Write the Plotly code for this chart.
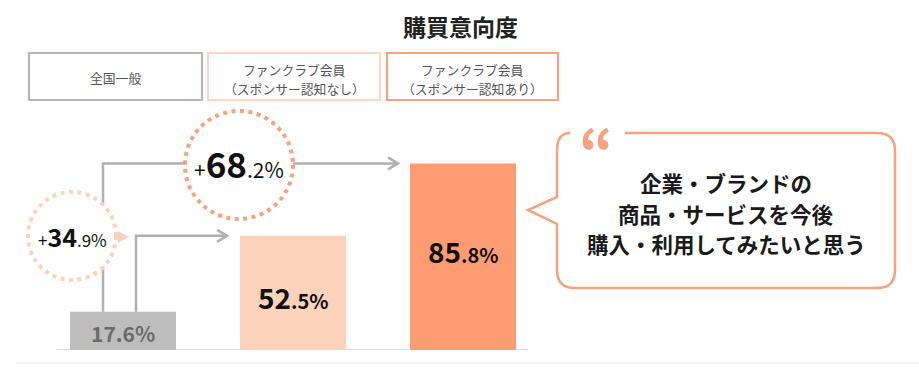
import plotly.graph_objects as go

W, H = 919, 377
FONT = "Noto Sans CJK JP"

# ---- data ----
title = "購買意向度"
categories = ["全国一般", "ファンクラブ会員（スポンサー認知なし）", "ファンクラブ会員（スポンサー認知あり）"]
legend_lines = [["全国一般"], ["ファンクラブ会員", "（スポンサー認知なし）"], ["ファンクラブ会員", "（スポンサー認知あり）"]]
values = [17.6, 52.5, 85.8]
lifts = [34.9, 68.2]
bar_colors = ["#bdbdbd", "#fdd2bb", "#fd9c72"]
box_colors = ["#b5b5b5", "#fcd6c2", "#f3a283"]
bubble_lines = ["企業・ブランドの", "商品・サービスを今後", "購入・利用してみたいと思う"]

ORANGE = "#f4a27f"
PEACH = "#fcd2bc"
GRAY_LINE = "#b0b0b0"


def px(x):
    return x / W


def py(y):
    return 1 - y / H


def ppath(cmds):
    out = []
    for c in cmds:
        if isinstance(c, str):
            out.append(c)
        else:
            out.append(f"{px(c[0]):.5f},{py(c[1]):.5f}")
    return " ".join(out)


fig = go.Figure()
fig.add_trace(go.Bar(
    x=list(range(len(values))), y=values, width=0.6235,
    marker=dict(color=bar_colors, line=dict(width=0)),
    hoverinfo="skip", showlegend=False,
))

shapes = []
ann = []

# baseline and faint footer line
shapes.append(dict(type="line", xref="paper", yref="y", x0=px(56), x1=px(528), y0=0, y1=0,
                   line=dict(color="#dadada", width=2), layer="below"))
shapes.append(dict(type="line", xref="paper", yref="paper", x0=px(16), x1=1, y0=py(363), y1=py(363),
                   line=dict(color="#f3f3f3", width=2), layer="below"))

# legend boxes
boxes = [(29, 202), (208, 380), (387, 558)]
for i, (x0, x1) in enumerate(boxes):
    shapes.append(dict(type="rect", xref="paper", yref="paper", x0=px(x0), x1=px(x1), y0=py(53), y1=py(100),
                       line=dict(color=box_colors[i], width=2.2), fillcolor="rgba(0,0,0,0)"))
    cx = (x0 + x1) / 2
    lines = legend_lines[i]
    ys = [77] if len(lines) == 1 else [69.5, 88]
    for t, yy in zip(lines, ys):
        ann.append(dict(xref="paper", yref="paper", x=px(cx), y=py(yy), text=t,
                        showarrow=False, xanchor="center", yanchor="middle",
                        font=dict(family=FONT, size=12.8, color="#555555")))

# connectors (data coordinates)
xa, xb = -0.1176, 0.0765
tip_a, tip_b = 1.6176, 0.6118
shapes.append(dict(type="path", xref="x", yref="y",
                   path=f"M{xa},{values[0]} L{xa},{values[2]} L{tip_a},{values[2]}",
                   line=dict(color=GRAY_LINE, width=2.5)))
shapes.append(dict(type="path", xref="x", yref="y",
                   path=f"M{xb},{values[0]} L{xb},{values[1]} L{tip_b},{values[1]}",
                   line=dict(color=GRAY_LINE, width=2.5)))
for tip, lv in [(tip_a, values[2]), (tip_b, values[1])]:
    shapes.append(dict(type="path", xref="x", yref="y", xsizemode="pixel", ysizemode="pixel",
                       xanchor=tip, yanchor=lv, path="M-10,-6 L0,0 L-10,6",
                       line=dict(color=GRAY_LINE, width=2.5)))

# dotted circles
for (cx, cy, r, col) in [(72, 236, 44, PEACH), (239, 165, 54, ORANGE)]:
    shapes.append(dict(type="circle", xref="paper", yref="paper",
                       x0=px(cx - r), x1=px(cx + r), y0=py(cy + r), y1=py(cy - r),
                       fillcolor="white", line=dict(color=col, width=4, dash="4px,4.5px")))

# small triangle
shapes.append(dict(type="path", xref="paper", yref="paper",
                   path=ppath(["M", (118, 231), "L", (129, 237), "L", (118, 243), "Z"]),
                   fillcolor=PEACH, line=dict(width=0)))

# speech bubble
bubble = ["M", (625, 133), "L", (877, 133), "Q", (895, 133), (895, 151), "L", (895, 270),
          "Q", (895, 288), (877, 288), "L", (575, 288), "Q", (557, 288), (557, 270),
          "L", (557, 224), "L", (528, 210), "L", (557, 197), "L", (557, 151),
          "Q", (557, 133), (570, 133)]
shapes.append(dict(type="path", xref="paper", yref="paper", path=ppath(bubble),
                   fillcolor="rgba(0,0,0,0)", line=dict(color=ORANGE, width=2.5)))
ann.append(dict(xref="paper", yref="paper", x=px(596), y=py(148), text="<b>“</b>", showarrow=False,
                xanchor="center", yanchor="middle",
                font=dict(family=FONT, size=60, color=ORANGE)))
for t, yy in zip(bubble_lines, [182, 213, 243]):
    ann.append(dict(xref="paper", yref="paper", x=px(726), y=py(yy), text=f"<b>{t}</b>", showarrow=False,
                    xanchor="center", yanchor="middle",
                    font=dict(family=FONT, size=21.5, color="#1a1a1a")))

# title
ann.append(dict(xref="paper", yref="paper", x=px(461), y=py(26), text=f"<b>{title}</b>", showarrow=False,
                xanchor="center", yanchor="middle", font=dict(family=FONT, size=23, color="#222222")))


def split(v):
    s = f"{v:.1f}"
    a, b = s.split(".")
    return a, "." + b + "%"


# lift labels in circles
for (cx, cy, big, small), lv in zip([(72, 236, 25, 17), (239, 162, 35, 21)], lifts):
    a, b = split(lv)
    txt = (f"<span style='font-size:{small}px'>+</span><b>{a}</b>"
           f"<span style='font-size:{small}px'>{b}</span>")
    ann.append(dict(xref="paper", yref="paper", x=px(cx), y=py(cy), text=txt, showarrow=False,
                    xanchor="center", yanchor="middle", font=dict(family=FONT, size=big, color="#111111")))

# bar value labels
a, b = split(values[0])
ann.append(dict(xref="x", yref="paper", x=0, y=py(333), text=f"<b>{a}{b}</b>", showarrow=False,
                xanchor="center", yanchor="middle", font=dict(family=FONT, size=21, color="#6b6b6b")))
for i, yy in [(1, 297), (2, 251)]:
    a, b = split(values[i])
    txt = f"<b>{a}</b><span style='font-size:20px'><b>{b}</b></span>"
    ann.append(dict(xref="x", yref="paper", x=i, y=py(yy), text=txt, showarrow=False,
                    xanchor="center", yanchor="middle", font=dict(family=FONT, size=28, color="#111111")))

fig.update_layout(
    width=W, height=H, margin=dict(l=0, r=0, t=0, b=0),
    paper_bgcolor="white", plot_bgcolor="white",
    xaxis=dict(range=[-0.5, 2.5], domain=[38 / W, 548 / W], visible=False, fixedrange=True),
    yaxis=dict(range=[0, 250 / 2.175], domain=[1 - 350 / H, 1 - 100 / H], visible=False, fixedrange=True),
    shapes=shapes, annotations=ann, showlegend=False,
)

fig.write_html("out.html", config={"displayModeBar": False},
               post_script="document.body.style.margin='0';")
